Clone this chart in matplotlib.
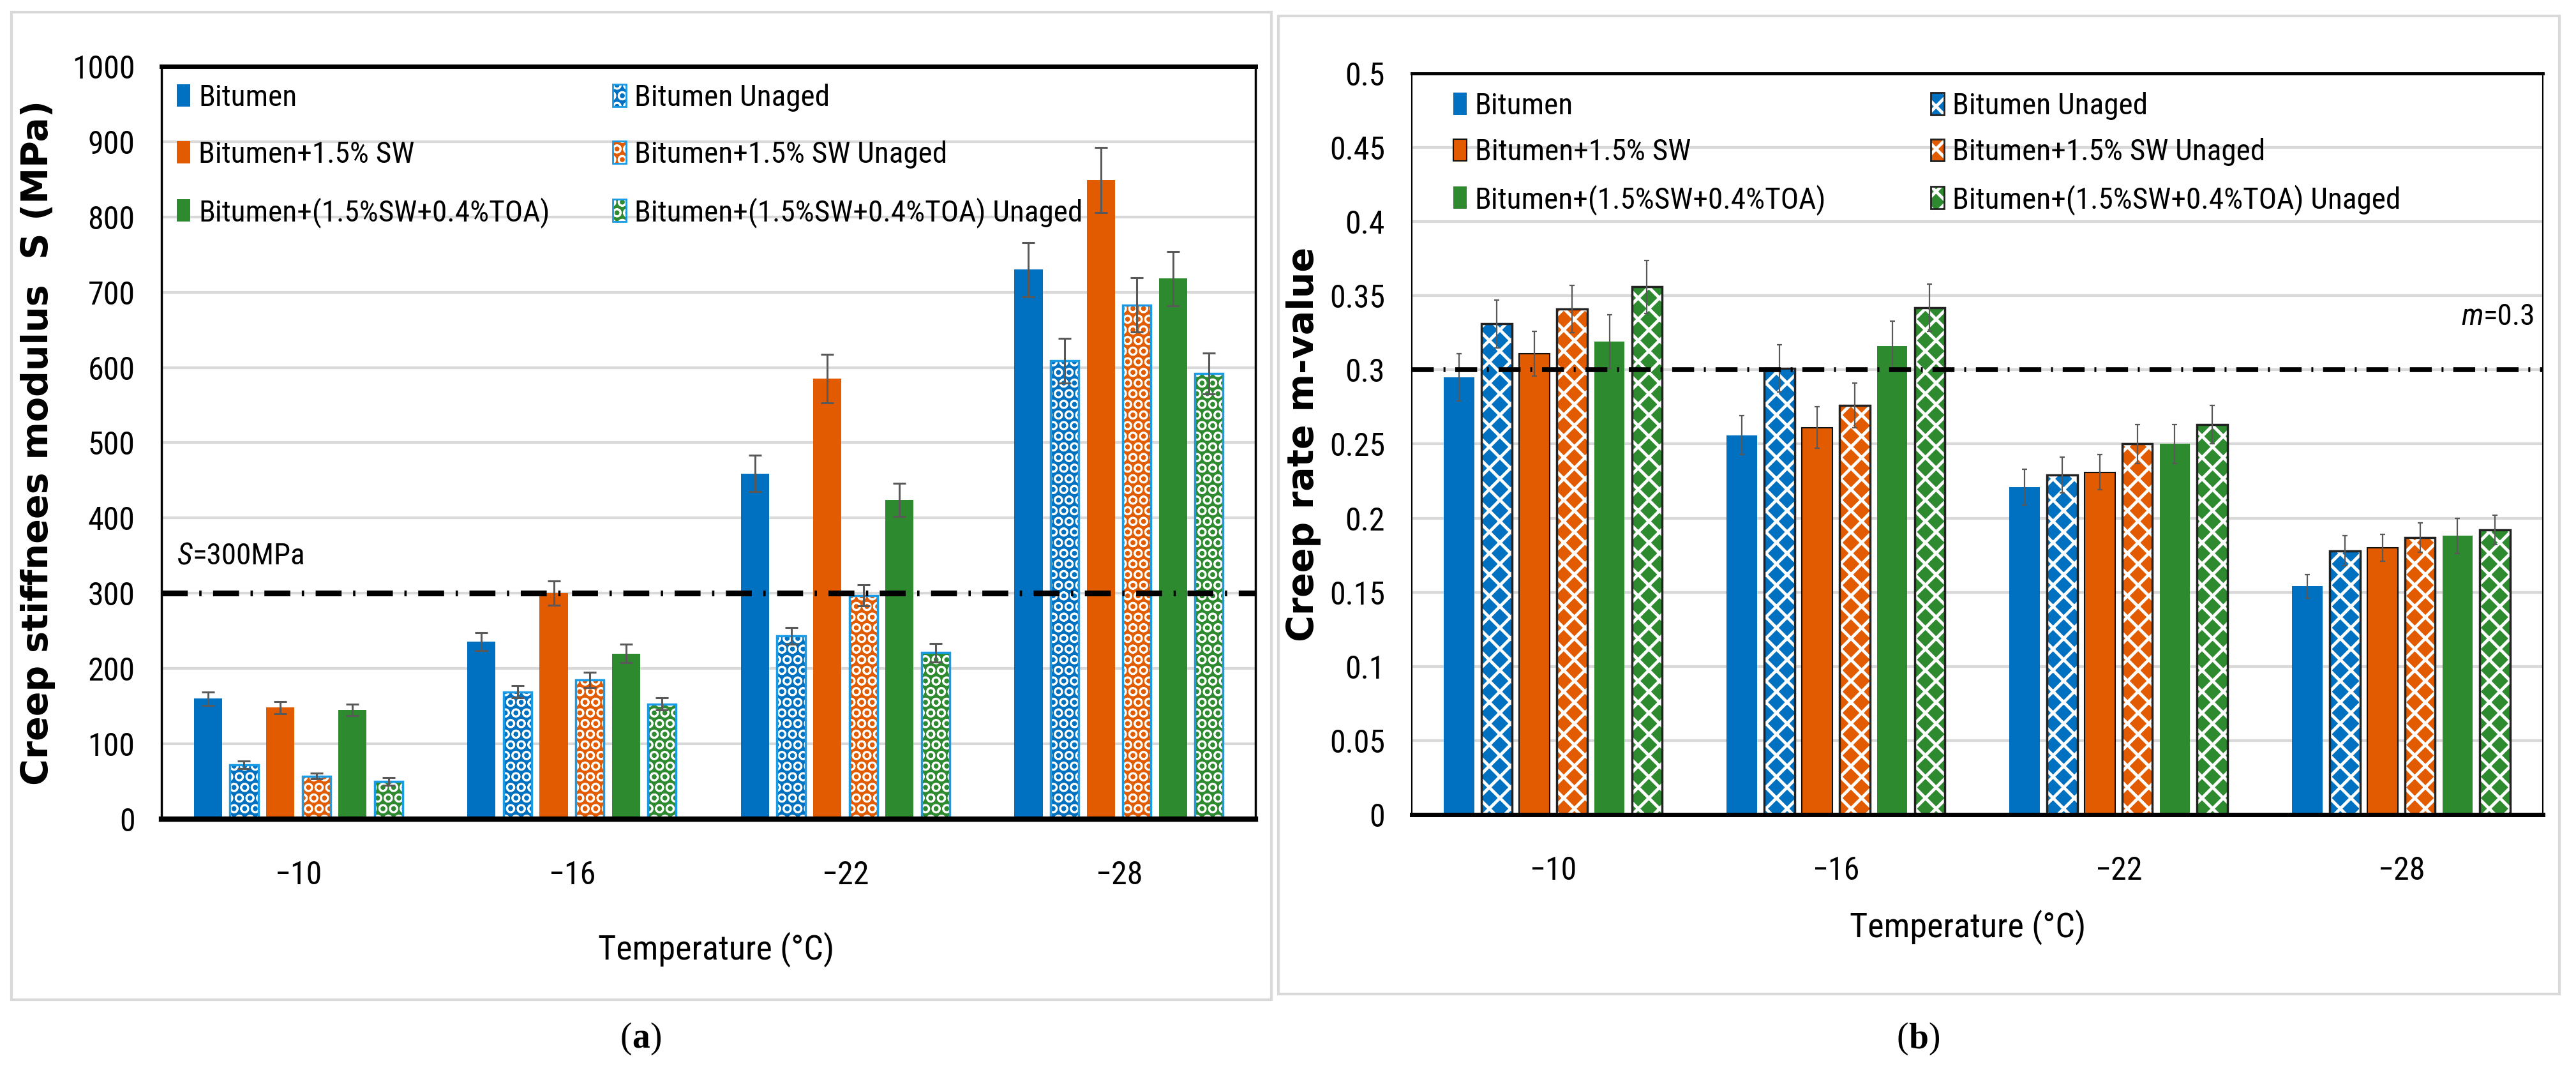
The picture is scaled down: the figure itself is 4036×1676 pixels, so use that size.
import matplotlib
matplotlib.use('Agg')
import matplotlib.pyplot as plt
from matplotlib.patches import Patch, Rectangle
from matplotlib.legend_handler import HandlerTuple
import numpy as np

plt.rcParams['font.family'] = ['Liberation Sans Narrow', 'Roboto Condensed', 'DejaVu Sans Condensed', 'Liberation Sans']
plt.rcParams['font.stretch'] = 'condensed'
plt.rcParams['hatch.linewidth'] = 3.0

temps = ['\u221210', '\u221216', '\u221222', '\u221228']
names = ['Bitumen', 'Bitumen Unaged', 'Bitumen+1.5% SW', 'Bitumen+1.5% SW Unaged',
         'Bitumen+(1.5%SW+0.4%TOA)', 'Bitumen+(1.5%SW+0.4%TOA) Unaged']

# (a) creep stiffness S, MPa
s_bit = [160, 236, 459, 730]
s_bit_un = [72, 169, 243, 609]
s_sw = [148, 300, 585, 849]
s_sw_un = [57, 185, 297, 683]
s_toa = [145, 220, 424, 718]
s_toa_un = [50, 153, 221, 592]
se_bit = [9, 12, 24, 36]
se_bit_un = [5, 8, 11, 30]
se_sw = [8, 16, 32, 43]
se_sw_un = [4, 10, 14, 36]
se_toa = [8, 12, 22, 36]
se_toa_un = [5, 8, 12, 27]

# (b) m-value
m_bit = [0.295, 0.256, 0.221, 0.154]
m_bit_un = [0.331, 0.301, 0.229, 0.178]
m_sw = [0.311, 0.261, 0.231, 0.180]
m_sw_un = [0.341, 0.276, 0.250, 0.187]
m_toa = [0.319, 0.316, 0.250, 0.188]
m_toa_un = [0.356, 0.342, 0.263, 0.192]
me_bit = [0.016, 0.013, 0.012, 0.008]
me_bit_un = [0.016, 0.016, 0.012, 0.010]
me_sw = [0.015, 0.014, 0.012, 0.009]
me_sw_un = [0.016, 0.015, 0.013, 0.010]
me_toa = [0.018, 0.017, 0.013, 0.012]
me_toa_un = [0.018, 0.016, 0.013, 0.010]

yticks_a = [0, 100, 200, 300, 400, 500, 600, 700, 800, 900, 1000]
yticks_b = [0, 0.05, 0.1, 0.15, 0.2, 0.25, 0.3, 0.35, 0.4, 0.45, 0.5]
yticklabels_b = ['0', '0.05', '0.1', '0.15', '0.2', '0.25', '0.3', '0.35', '0.4', '0.45', '0.5']

blue = '#0070c0'
orange = '#e35b00'
green = '#2e8a2e'
cols = [blue, blue, orange, orange, green, green]
errc = '#595959'
gridc = '#d9d9d9'

fig = plt.figure(figsize=(40.36, 16.76), dpi=100)
axa = fig.add_axes([0.0627, 0.2345, 0.4247, 0.7035])
axb = fig.add_axes([0.548, 0.2387, 0.439, 0.6927])

# panel frames
fig.patches.append(Rectangle((18 / 4036, 1 - 1566 / 1676), 1974 / 4036, 1547 / 1676,
                             transform=fig.transFigure, fill=False, ec=gridc, lw=3))
fig.patches.append(Rectangle((2003 / 4036, 1 - 1557 / 1676), 2007 / 4036, 1532 / 1676,
                             transform=fig.transFigure, fill=False, ec=gridc, lw=3))

x = np.arange(len(temps))


def draw_bars(ax, series, errs, step, width, hatch, unaged_edge, solid_edges, elw, cap):
    handles = []
    for i, (vals, e) in enumerate(zip(series, errs)):
        xs = x + (i - 2.5) * step
        if i % 2 == 0:
            ec = solid_edges[i // 2]
            ax.bar(xs, vals, width, color=cols[i], edgecolor=ec if ec else cols[i],
                   linewidth=1.5 if ec else 0, zorder=3)
            h = Patch(facecolor=cols[i], edgecolor=ec if ec else cols[i], linewidth=1.5 if ec else 0)
        else:
            ax.bar(xs, vals, width, color=cols[i], edgecolor='white', hatch=hatch, linewidth=0, zorder=3)
            ax.bar(xs, vals, width, fill=False, edgecolor=unaged_edge, linewidth=2.5, zorder=3)
            h = (Patch(facecolor=cols[i], edgecolor='white', hatch=hatch, linewidth=0),
                 Patch(fill=False, edgecolor=unaged_edge, linewidth=2))
        ax.errorbar(xs, vals, yerr=e, fmt='none', ecolor=errc, elinewidth=elw,
                    capsize=cap, capthick=elw, zorder=4)
        handles.append(h)
    return handles


def style_axis(ax, yt, ytl, ylim, top_lw, side_lw, bottom_lw):
    ax.set_xlim(-0.5, 3.5)
    ax.set_ylim(*ylim)
    ax.set_xticks(x)
    ax.set_xticklabels(temps)
    ax.set_yticks(yt)
    ax.set_yticklabels(ytl)
    ax.tick_params(axis='both', length=0, labelsize=36)
    ax.tick_params(axis='x', pad=46)
    ax.tick_params(axis='y', pad=30)
    ax.grid(axis='y', color=gridc, lw=3)
    ax.set_axisbelow(True)
    ax.spines['top'].set_linewidth(top_lw)
    ax.spines['left'].set_linewidth(side_lw)
    ax.spines['right'].set_linewidth(side_lw)
    ax.spines['bottom'].set_linewidth(bottom_lw)
    for s in ax.spines.values():
        s.set_color('black')
        s.set_zorder(6)


def add_legend(ax, handles, x0, x1, ytop, spacing):
    hm = {tuple: HandlerTuple(ndivide=1, pad=0)}
    leg1 = ax.legend(handles[0::2], names[0::2], loc='upper left', bbox_to_anchor=(x0, ytop),
                     frameon=False, fontsize=34, handlelength=0.44, handleheight=0.75,
                     handletextpad=0.28, labelspacing=spacing, borderpad=0, borderaxespad=0,
                     handler_map=hm)
    ax.add_artist(leg1)
    ax.legend(handles[1::2], names[1::2], loc='upper left', bbox_to_anchor=(x1, ytop),
              frameon=False, fontsize=34, handlelength=0.44, handleheight=0.75,
              handletextpad=0.28, labelspacing=spacing, borderpad=0, borderaxespad=0,
              handler_map=hm)


# ---- (a) ----
with plt.rc_context({'hatch.linewidth': 2.0}):
    ha = draw_bars(axa, [s_bit, s_bit_un, s_sw, s_sw_un, s_toa, s_toa_un],
                   [se_bit, se_bit_un, se_sw, se_sw_un, se_toa, se_toa_un],
                   0.132, 0.103, 'O', '#1a9be6', [None, None, None], 2.2, 7)
style_axis(axa, yticks_a, [str(v) for v in yticks_a], (0, 1000), 5, 2.5, 6)
axa.axhline(300, color='black', lw=6.5, ls=(0, (4.5, 2, 0.4, 2)), zorder=5)
t1 = axa.text(-0.442, 349, 'S', fontsize=34, style='italic', va='center', ha='left')
axa.annotate('=300MPa', xy=(1, 0.5), xycoords=t1, va='center', ha='left', fontsize=34)
axa.set_ylabel('Creep stiffnees modulus  S (MPa)', family='DejaVu Sans', fontstretch='normal',
               fontweight='bold', fontsize=41)
axa.yaxis.set_label_coords(-0.097, 0.5)
axa.set_xlabel('Temperature (\u00b0C)', fontsize=39)
axa.xaxis.set_label_coords(0.507, -0.15)
with plt.rc_context({'hatch.linewidth': 2.0}):
    add_legend(axa, ha, 0.014, 0.4125, 0.977, 0.95)

# ---- (b) ----
with plt.rc_context({'hatch.linewidth': 3.5}):
    hb = draw_bars(axb, [m_bit, m_bit_un, m_sw, m_sw_un, m_toa, m_toa_un],
                   [me_bit, me_bit_un, me_sw, me_sw_un, me_toa, me_toa_un],
                   0.133, 0.108, 'x', '#222222', [None, '#111111', None], 1.6, 3)
style_axis(axb, yticks_b, yticklabels_b, (0, 0.5), 3.5, 1.5, 5)
axb.axhline(0.3, color='black', lw=5.5, ls=(0, (4.5, 2, 0.4, 2)), zorder=5)
t2 = axb.text(3.29, 0.336, 'm', fontsize=34, style='italic', va='center', ha='right')
axb.annotate('=0.3', xy=(1, 0.5), xycoords=t2, va='center', ha='left', fontsize=34)
axb.set_ylabel('Creep rate m-value', family='DejaVu Sans', fontstretch='normal',
               fontweight='bold', fontsize=41)
axb.yaxis.set_label_coords(-0.08, 0.5)
axb.set_xlabel('Temperature (\u00b0C)', fontsize=39)
axb.xaxis.set_label_coords(0.492, -0.128)
with plt.rc_context({'hatch.linewidth': 3.5}):
    add_legend(axb, hb, 0.0367, 0.459, 0.975, 0.6)

# panel letters
for xc, letter in [(1004 / 4036, 'a'), (3006 / 4036, 'b')]:
    tl = fig.text(xc, 0.029, letter, family='Liberation Serif', fontstretch='normal',
                  fontweight='bold', fontsize=40, ha='center', va='center')
    plt.annotate('(', xy=(0, 0.5), xycoords=tl, ha='right', va='center',
                 family='Liberation Serif', fontsize=40, annotation_clip=False)
    plt.annotate(')', xy=(1, 0.5), xycoords=tl, ha='left', va='center',
                 family='Liberation Serif', fontsize=40, annotation_clip=False)

fig.savefig('out.png', dpi=100)
